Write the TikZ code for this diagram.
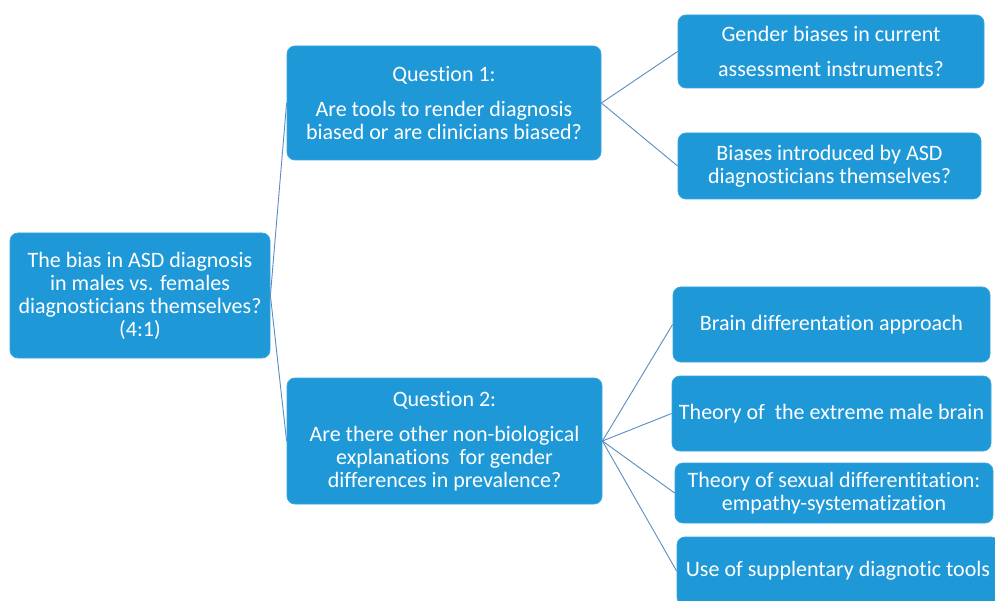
\documentclass[tikz,border=0pt]{standalone}
\usepackage{fontspec}
\setmainfont{Carlito}[Ligatures=NoCommon]
\definecolor{boxblue}{HTML}{1F98D8}
\definecolor{boxedge}{HTML}{3AA6DE}
\definecolor{linkblue}{HTML}{5A8DC2}
\tikzset{
  blockbox/.style={rectangle, rounded corners=8pt, fill=boxblue, draw=boxedge, line width=0.8pt,
    text=white, align=center, inner sep=0pt, font=\fontsize{22}{23}\selectfont},
  link/.style={draw=linkblue, line width=0.9pt}
}
\begin{document}
\begin{tikzpicture}[x=1pt,y=-1pt]
\useasboundingbox (0,0) rectangle (995,601);
\clip (0,0) rectangle (995,601);
\fill[white] (0,0) rectangle (995,601);

\node[blockbox, minimum width=260pt, minimum height=125pt] (root) at (140,295.5)
  {The bias in ASD diagnosis\\in males vs. females\\diagnosticians themselves?\\(4:1)};

\node[blockbox, minimum width=314pt, minimum height=114pt] (q1) at (444,103)
  {Question 1:\\[12pt]Are tools to render diagnosis\\biased or are clinicians biased?};

\node[blockbox, minimum width=315pt, minimum height=126pt] (q2) at (444.5,441)
  {Question 2:\\[12pt]Are there other non-biological\\explanations\ \ for gender\\differences in prevalence?};

\node[blockbox, minimum width=306pt, minimum height=73pt] (gender) at (831,51.5)
  {Gender biases in current\\[12pt]assessment instruments?};

\node[blockbox, minimum width=303pt, minimum height=66pt] (bias) at (829.5,166)
  {Biases introduced by ASD\\diagnosticians themselves?};

\node[blockbox, minimum width=317pt, minimum height=75pt] (brain) at (831.5,324.5)
  {Brain differentation approach};

\node[blockbox, minimum width=319pt, minimum height=75pt] (extreme) at (831.5,413.5)
  {Theory of\ \ the extreme male brain};

\node[blockbox, minimum width=318pt, minimum height=60pt] (sexual) at (834,493)
  {Theory of sexual differentitation:\\empathy-systematization};

\node[blockbox, minimum width=322pt, minimum height=68pt] (use) at (838,571)
  {Use of supplentary diagnotic tools};

\draw[link] (q1.west) -- (root.east) -- (q2.west);
\draw[link] (gender.west) -- (q1.east) -- (bias.west);
\draw[link] (q2.east) -- (brain.west);
\draw[link] (q2.east) -- (extreme.west);
\draw[link] (q2.east) -- (sexual.west);
\draw[link] (q2.east) -- (use.west);
\end{tikzpicture}
\end{document}
